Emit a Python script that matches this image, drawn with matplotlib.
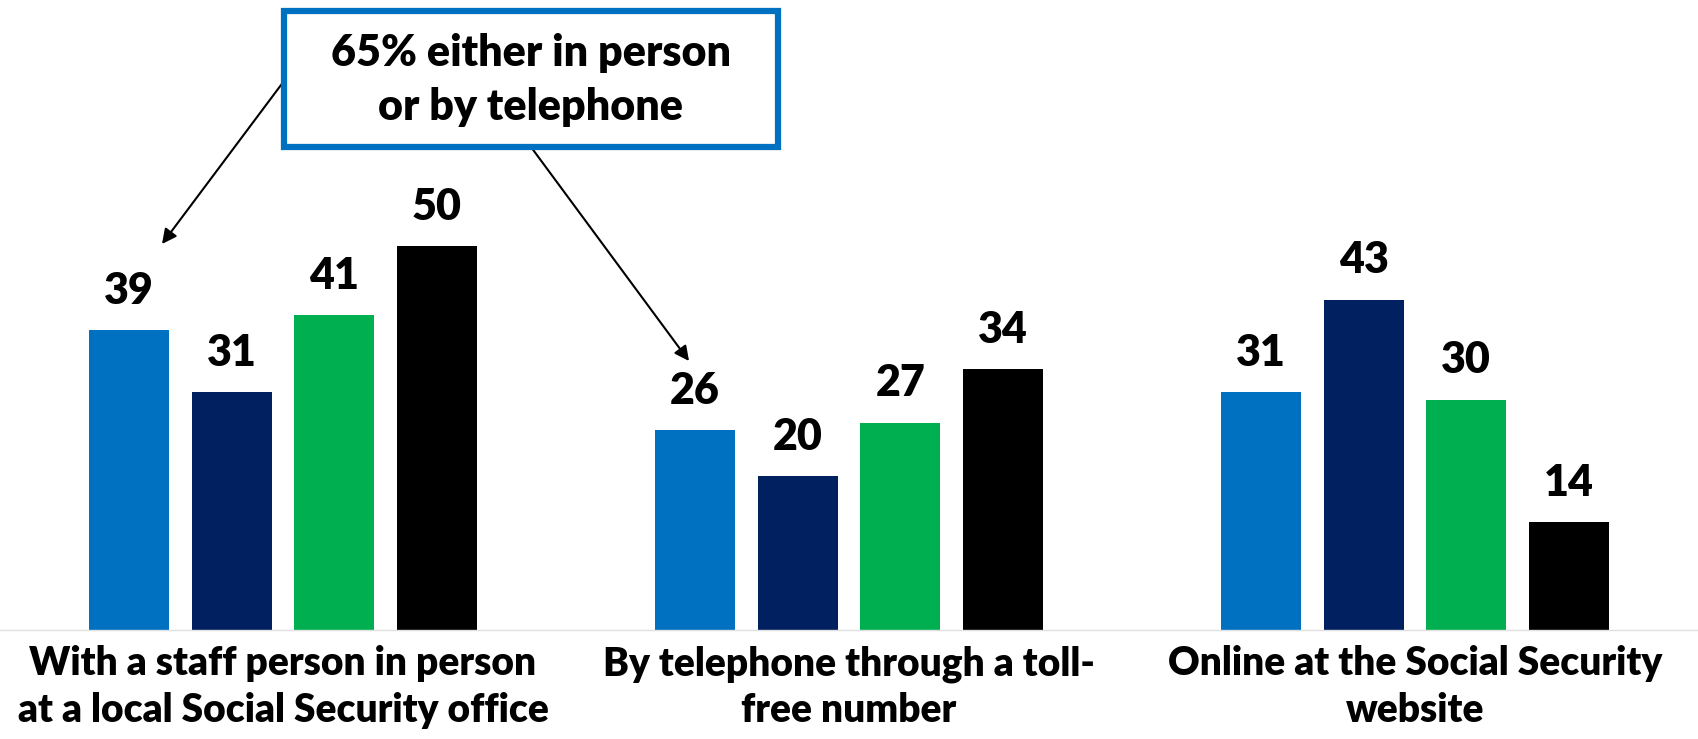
import numpy as np
import matplotlib.pyplot as plt
from matplotlib.patches import Rectangle

# Survey results: how people contacted Social Security (%)
categories = ['With a staff person in person\nat a local Social Security office',
              'By telephone through a toll-\nfree number',
              'Online at the Social Security\nwebsite']
series_values = [
    [39, 26, 31],
    [31, 20, 43],
    [41, 27, 30],
    [50, 34, 14],
]
colors = ['#0070C0', '#002060', '#00B050', '#000000']
callout = '65% either in person\nor by telephone'

plt.rcParams['font.family'] = ['Lato', 'DejaVu Sans']

W, H = 1698, 739
fig = plt.figure(figsize=(W / 100, H / 100), dpi=100)
ax = fig.add_axes([0, 109 / H, 1, 630 / H])

x = np.arange(len(categories))
pitch = 0.1813
width = 0.141
for i, vals in enumerate(series_values):
    pos = x + (i - 1.5) * pitch
    ax.bar(pos, vals, width=width, color=colors[i])
    for xp, v in zip(pos, vals):
        ax.text(xp, v + 2.5, str(v), ha='center', va='bottom',
                fontsize=31, fontweight='heavy')

ax.set_xlim(-0.5, 2.5)
ax.set_ylim(0, 82)
ax.set_yticks([])
ax.set_xticks(x)
ax.set_xticklabels(categories, fontsize=28, fontweight='heavy', linespacing=1.32)
ax.tick_params(axis='x', length=0, pad=11)
for s in ['top', 'left', 'right']:
    ax.spines[s].set_visible(False)
ax.spines['bottom'].set_color('#E0E0E0')
ax.spines['bottom'].set_linewidth(1)

# callout box with two arrows
box = Rectangle((284 / W, 1 - 147 / H), 494 / W, 136 / H, transform=fig.transFigure,
                fc='white', ec='#0070C0', lw=4.5, zorder=5)
fig.patches.append(box)
fig.text(531 / W, 1 - 80 / H, callout, ha='center', va='center',
         fontsize=31, fontweight='heavy', linespacing=1.4, zorder=6)
ax.annotate('', xy=(162 / W, 1 - 244 / H), xycoords='figure fraction',
            xytext=(284 / W, 1 - 81 / H), textcoords='figure fraction',
            arrowprops=dict(arrowstyle='-|>', color='black', lw=1.5,
                            mutation_scale=22, shrinkA=0, shrinkB=0))
ax.annotate('', xy=(689 / W, 1 - 361 / H), xycoords='figure fraction',
            xytext=(531 / W, 1 - 147 / H), textcoords='figure fraction',
            arrowprops=dict(arrowstyle='-|>', color='black', lw=1.5,
                            mutation_scale=22, shrinkA=0, shrinkB=0))

fig.savefig('out.png', dpi=100)
